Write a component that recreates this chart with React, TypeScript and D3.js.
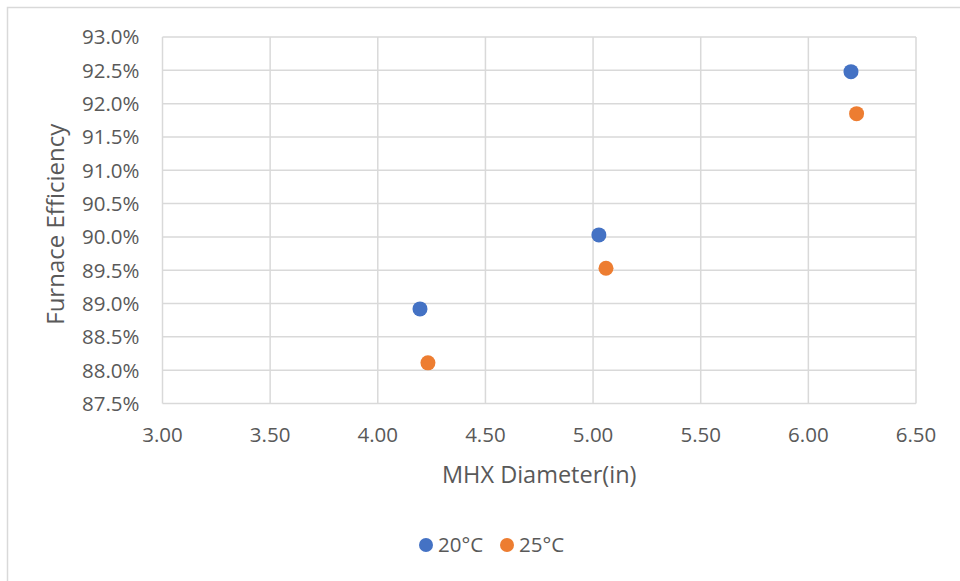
import React from "react";
import * as d3 from "d3";

// MHX diameter (in) and furnace efficiency (%) per inlet temperature
const diameter20 = [4.196, 5.027, 6.198];
const efficiency20 = [88.92, 90.03, 92.48];
const diameter25 = [4.233, 5.06, 6.224];
const efficiency25 = [88.11, 89.53, 91.85];

const seriesNames = ["20°C", "25°C"];
const seriesColors = ["#4472C4", "#ED7D31"];

const xTicks = [3.0, 3.5, 4.0, 4.5, 5.0, 5.5, 6.0, 6.5];
const yTicks = [87.5, 88.0, 88.5, 89.0, 89.5, 90.0, 90.5, 91.0, 91.5, 92.0, 92.5, 93.0];

const W = 960;
const H = 581;
const plot = { left: 162.5, right: 916, top: 37, bottom: 403.5 };
const FONT = "'Open Sans', 'DejaVu Sans', sans-serif";
const TEXT = "#595959";
const GRID = "#d9d9d9";

export default function App() {
  const x = d3.scaleLinear().domain([3.0, 6.5]).range([plot.left, plot.right]);
  const y = d3.scaleLinear().domain([87.5, 93.0]).range([plot.bottom, plot.top]);

  const series = [
    { name: seriesNames[0], color: seriesColors[0], xs: diameter20, ys: efficiency20 },
    { name: seriesNames[1], color: seriesColors[1], xs: diameter25, ys: efficiency25 },
  ];

  return (
    <svg
      width={W}
      height={H}
      style={{ position: "absolute", left: 0, top: 0, background: "#fff" }}
      fontFamily={FONT}
    >
      <rect x={7.5} y={7.5} width={W + 20} height={H + 20} fill="#fff" stroke={GRID} strokeWidth={1.5} />

      {/* grid */}
      {yTicks.map((t) => (
        <line key={"gy" + t} x1={plot.left} x2={plot.right} y1={y(t)} y2={y(t)} stroke={GRID} strokeWidth={1.5} />
      ))}
      {xTicks.map((t) => (
        <line key={"gx" + t} x1={x(t)} x2={x(t)} y1={plot.top} y2={plot.bottom} stroke={GRID} strokeWidth={1.5} />
      ))}

      {/* y tick labels */}
      {yTicks.map((t) => (
        <text key={"ly" + t} x={plot.left - 23} y={y(t)} dy="0.36em" textAnchor="end" fontSize={20.5} fill={TEXT}>
          {d3.format(".1f")(t) + "%"}
        </text>
      ))}
      {/* x tick labels */}
      {xTicks.map((t) => (
        <text key={"lx" + t} x={x(t)} y={plot.bottom + 38.5} textAnchor="middle" fontSize={20.5} fill={TEXT}>
          {d3.format(".2f")(t)}
        </text>
      ))}

      {/* axis titles */}
      <text x={(plot.left + plot.right) / 2} y={483} textAnchor="middle" fontSize={23.5} fill={TEXT}>
        MHX Diameter(in)
      </text>
      <text
        transform={`translate(63.5, ${(plot.top + plot.bottom) / 2 + 4}) rotate(-90)`}
        textAnchor="middle"
        fontSize={24}
        fill={TEXT}
      >
        Furnace Efficiency
      </text>

      {/* points */}
      {series.map((s) =>
        s.xs.map((v, i) => (
          <circle key={s.name + i} cx={x(v)} cy={y(s.ys[i])} r={7.5} fill={s.color} />
        ))
      )}

      {/* legend */}
      {series.map((s, i) => {
        const lx = 426 + i * 81;
        return (
          <g key={"lg" + s.name}>
            <circle cx={lx} cy={545} r={7} fill={s.color} />
            <text x={lx + 12} y={545} dy="0.36em" fontSize={20.5} fill={TEXT}>
              {s.name}
            </text>
          </g>
        );
      })}
    </svg>
  );
}
